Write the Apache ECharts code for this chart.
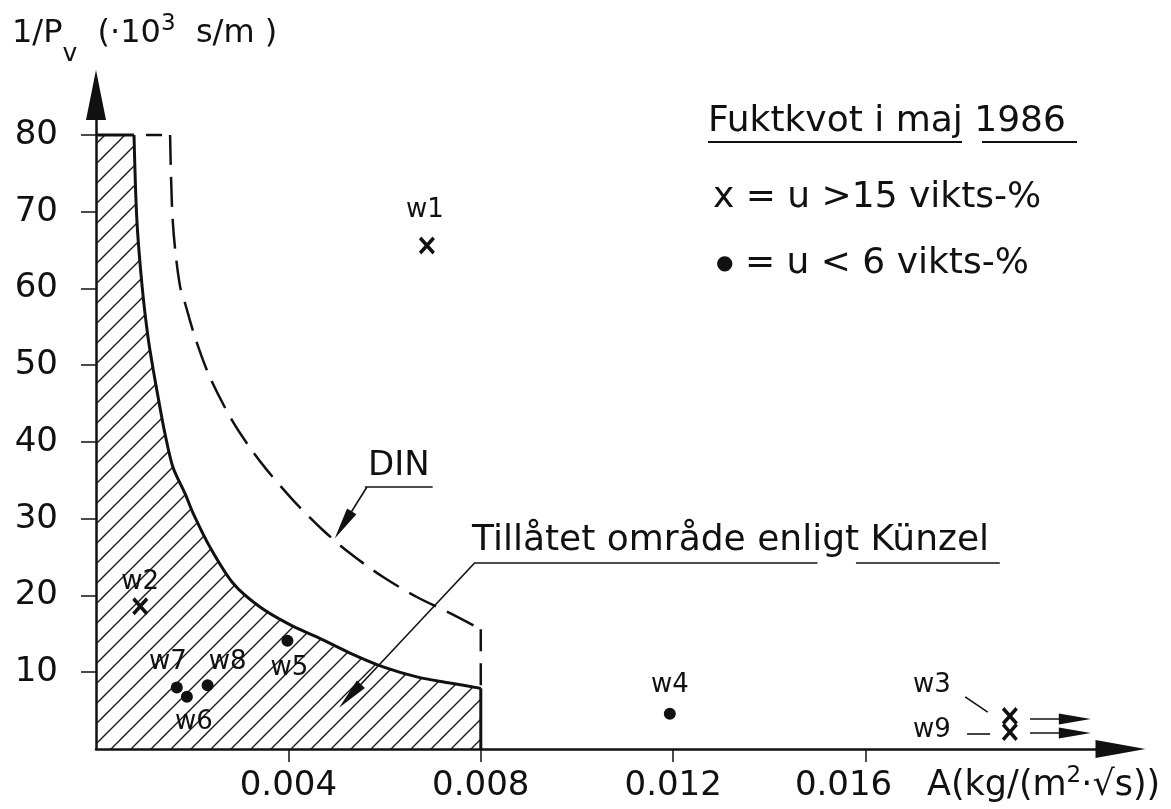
<!DOCTYPE html>
<html>
<head>
<meta charset="utf-8">
<title>Fuktkvot i maj 1986</title>
<script src="https://cdn.jsdelivr.net/npm/echarts@6/dist/echarts.min.js"></script>
<style>
  html, body { margin: 0; padding: 0; background: #fff; }
  #main { width: 1171px; height: 809px; }
</style>
</head>
<body>
<div id="main"></div>
<script>
// x: A (kg/(m2 * sqrt s)), y: 1/Pv (10^3 s/m)
const xTicks = [0.004, 0.008, 0.012, 0.016];
const yTicks = [10, 20, 30, 40, 50, 60, 70, 80];

// boundary of the allowed area (Künzel)
const kunzelTop = [[0, 80], [0.00079, 80]];
const kunzelCurve = [
  [0.00079, 80], [0.00085, 68.9], [0.00096, 60.2], [0.00108, 53.7], [0.00119, 49.4],
  [0.00133, 44.5], [0.00143, 41.2], [0.0016, 36.7], [0.00185, 33.3], [0.00202, 30.7],
  [0.00237, 26.3], [0.00285, 21.6], [0.00341, 18.5], [0.00403, 16.2], [0.00459, 14.6],
  [0.00528, 12.5], [0.00597, 10.7], [0.00667, 9.4], [0.00736, 8.6], [0.008, 7.9]
];
// DIN limit (dashed)
const dinTop = [[0.00079, 80], [0.00154, 80]];
const dinCurve = [
  [0.00154, 80], [0.00158, 70.6], [0.00164, 65.4], [0.00175, 60.2], [0.00185, 58.1],
  [0.00206, 53.6], [0.00237, 48.4], [0.00283, 42.8], [0.00324, 38.9], [0.00356, 36.3],
  [0.0041, 32.4], [0.00472, 28.5], [0.00528, 25.5], [0.00597, 22.4], [0.00667, 19.8],
  [0.00736, 17.7], [0.008, 15.6]
];

// u > 15 vikts-%
const wetNames = ['w1', 'w2', 'w3', 'w9'];
const wetA = [0.00688, 0.00092, 0.0190, 0.0190];
const wetP = [65.6, 18.6, 4.3, 2.2];
// u < 6 vikts-%
const dryNames = ['w4', 'w5', 'w6', 'w7', 'w8'];
const dryA = [0.01193, 0.00398, 0.00189, 0.00168, 0.00232];
const dryP = [4.6, 14.1, 6.8, 8.0, 8.3];

const font = 'DejaVu Sans';
const ink = '#111';

// label offsets in px around each point
const labelOffset = {
  w1: [-2, -35], w2: [0, -24], w3: [-78, -31], w9: [-78, -2],
  w4: [0, -28], w5: [2, 27], w6: [7, 25], w7: [-9, -25], w8: [20, -23]
};

// hatching for the allowed area
const hatch = document.createElement('canvas');
hatch.width = 20;
hatch.height = 20;
const hctx = hatch.getContext('2d');
hctx.strokeStyle = '#1a1a1a';
hctx.lineWidth = 1.4;
hctx.beginPath();
hctx.moveTo(0, 20); hctx.lineTo(20, 0);
hctx.moveTo(-2, 2); hctx.lineTo(2, -2);
hctx.moveTo(18, 22); hctx.lineTo(22, 18);
hctx.stroke();
const hatchFill = { color: { image: hatch, repeat: 'repeat' }, opacity: 1 };

const crossPath = 'path://M0,3L3,0L10,7L17,0L20,3L13,10L20,17L17,20L10,13L3,20L0,17L7,10Z';

function points(names, xs, ys) {
  return names.map((n, i) => ({
    name: n,
    value: [xs[i], ys[i]],
    label: { offset: labelOffset[n] }
  }));
}

const pointLabel = {
  show: true,
  position: 'inside',
  formatter: p => p.name,
  color: ink,
  opacity: 1,
  fontFamily: font,
  fontSize: 26
};

const plainLine = { type: 'solid', color: ink, width: 1.6 };

function txt(size, extra) {
  return Object.assign({ fontSize: size, fontFamily: font, fontWeight: 'normal', color: ink, verticalAlign: 'middle' }, extra || {});
}

let myChart = echarts.init(document.getElementById('main'));

let option = {
  backgroundColor: '#fff',
  animation: false,
  textStyle: { fontFamily: font, color: ink },
  grid: { left: 96, right: 50.5, top: 95, bottom: 60 },
  title: [
    {
      text: '{a|1/P}{s|v}{a|  (·10}{p|3}{a|  s/m )}',
      left: 12, top: 0, padding: 0,
      textStyle: {
        fontWeight: 'normal',
        rich: {
          a: txt(32),
          s: txt(25, { padding: [42, 0, 0, 0] }),
          p: txt(23, { padding: [0, 0, 18, 0] })
        }
      }
    },
    {
      text: '{a|A(kg/(m}{p|2}{a|·√s))}',
      left: 927, top: 765, padding: 0,
      textStyle: {
        fontWeight: 'normal',
        rich: {
          a: txt(35),
          p: txt(23, { padding: [0, 0, 18, 0] })
        }
      }
    },
    {
      text: 'Fuktkvot i maj 1986',
      left: 708, top: 102, padding: 0,
      textStyle: { fontSize: 36, fontWeight: 'normal', fontFamily: font, color: ink, lineHeight: 40 }
    },
    {
      text: 'x = u >15 vikts-%',
      left: 713, top: 178, padding: 0,
      textStyle: { fontSize: 36, fontWeight: 'normal', fontFamily: font, color: ink, lineHeight: 40 }
    },
    {
      text: '{d|●}{a| = u < 6 vikts-%}',
      left: 716, top: 244, padding: 0,
      textStyle: {
        fontWeight: 'normal',
        rich: {
          d: txt(20),
          a: txt(36, { lineHeight: 40 })
        }
      }
    },
    {
      text: 'DIN',
      left: 368, top: 446, padding: 0,
      textStyle: { fontSize: 34, fontWeight: 'normal', fontFamily: font, color: ink, lineHeight: 40 }
    },
    {
      text: 'Tillåtet område enligt Künzel',
      left: 472, top: 521, padding: 0,
      textStyle: { fontSize: 36, fontWeight: 'normal', fontFamily: font, color: ink, lineHeight: 40 }
    }
  ],
  graphic: [
    { type: 'line', shape: { x1: 708, y1: 142, x2: 962, y2: 142 }, style: { stroke: ink, lineWidth: 2 } },
    { type: 'line', shape: { x1: 982, y1: 142, x2: 1077, y2: 142 }, style: { stroke: ink, lineWidth: 2 } }
  ],
  xAxis: {
    type: 'value',
    min: 0,
    max: 0.0213,
    splitLine: { show: false },
    axisLine: {
      show: true, onZero: false,
      symbol: ['none', 'triangle'], symbolSize: [18, 50],
      lineStyle: { color: ink, width: 2.5 }
    },
    axisTick: { show: true, customValues: xTicks, length: 13, lineStyle: { color: ink, width: 1.5 } },
    axisLabel: {
      customValues: xTicks,
      // the last label sits a little left of its tick, as in the drawing
      formatter: v => (v > 0.015 ? '{l|' + v.toFixed(3) + '}' : v.toFixed(3)),
      rich: { l: { fontSize: 34, fontFamily: font, color: ink, padding: [0, 44, 0, 0] } },
      margin: 20,
      fontSize: 34,
      fontFamily: font,
      color: ink
    }
  },
  yAxis: {
    type: 'value',
    min: 0,
    max: 85.2,
    splitLine: { show: false },
    axisLine: {
      show: true, onZero: false,
      symbol: ['none', 'triangle'], symbolSize: [20, 50],
      lineStyle: { color: ink, width: 2.5 }
    },
    axisTick: { show: true, customValues: yTicks, length: 15, lineStyle: { color: ink, width: 1.5 } },
    axisLabel: {
      customValues: yTicks,
      margin: 38,
      fontSize: 34,
      fontFamily: font,
      color: ink
    }
  },
  series: [
    {
      name: 'Künzel top',
      type: 'line',
      data: kunzelTop,
      showSymbol: false,
      silent: true,
      z: 2,
      lineStyle: { color: ink, width: 3 },
      areaStyle: hatchFill
    },
    {
      name: 'Künzel',
      type: 'line',
      data: kunzelCurve,
      smooth: 0.3,
      showSymbol: false,
      silent: true,
      z: 2,
      lineStyle: { color: ink, width: 3 },
      areaStyle: hatchFill,
      markLine: {
        silent: true,
        symbol: ['none', 'triangle'],
        symbolSize: [11, 32],
        label: { show: false },
        lineStyle: plainLine,
        data: [
          [{ coord: [0.00563, 34.1] }, { coord: [0.00514, 29.2] }],
          [{ coord: [0.00788, 24.3] }, { coord: [0.00528, 6.9] }],
          [{ coord: [0.01942, 3.9] }, { coord: [0.02035, 3.9] }],
          [{ coord: [0.01942, 2.1] }, { coord: [0.02035, 2.1] }]
        ]
      }
    },
    {
      name: 'Künzel edge',
      type: 'line',
      data: [[0.008, 7.9], [0.008, 0]],
      showSymbol: false,
      silent: true,
      z: 2,
      lineStyle: { color: ink, width: 3 }
    },
    {
      name: 'DIN top',
      type: 'line',
      data: dinTop,
      showSymbol: false,
      silent: true,
      z: 3,
      lineStyle: { color: ink, width: 2.5, type: [16, 12], dashOffset: -12 }
    },
    {
      name: 'DIN',
      type: 'line',
      data: dinCurve,
      smooth: 0.3,
      showSymbol: false,
      silent: true,
      z: 3,
      lineStyle: { color: ink, width: 2.5, type: [30, 12] },
      markLine: {
        silent: true,
        symbol: 'none',
        label: { show: false },
        lineStyle: plainLine,
        data: [
          [{ coord: [0.00700, 34.1] }, { coord: [0.00559, 34.1] }],
          [{ coord: [0.0150, 24.3] }, { coord: [0.00788, 24.3] }],
          [{ coord: [0.01879, 24.3] }, { coord: [0.0158, 24.3] }],
          [{ coord: [0.01807, 6.8] }, { coord: [0.01854, 4.8] }],
          [{ coord: [0.01811, 2.0] }, { coord: [0.01859, 2.0] }]
        ]
      }
    },
    {
      name: 'DIN edge',
      type: 'line',
      data: [[0.008, 15.6], [0.008, 7.9]],
      showSymbol: false,
      silent: true,
      z: 3,
      lineStyle: { color: ink, width: 2.5, type: [22, 12] }
    },
    {
      name: 'u > 15 vikts-%',
      type: 'scatter',
      z: 5,
      symbol: crossPath,
      symbolSize: [16, 18],
      itemStyle: { color: ink, opacity: 1 },
      label: pointLabel,
      data: points(wetNames, wetA, wetP)
    },
    {
      name: 'u < 6 vikts-%',
      type: 'scatter',
      z: 5,
      symbol: 'circle',
      symbolSize: 12,
      itemStyle: { color: ink, opacity: 1 },
      label: pointLabel,
      data: points(dryNames, dryA, dryP)
    }
  ]
};

myChart.setOption(option);
</script>
</body>
</html>
